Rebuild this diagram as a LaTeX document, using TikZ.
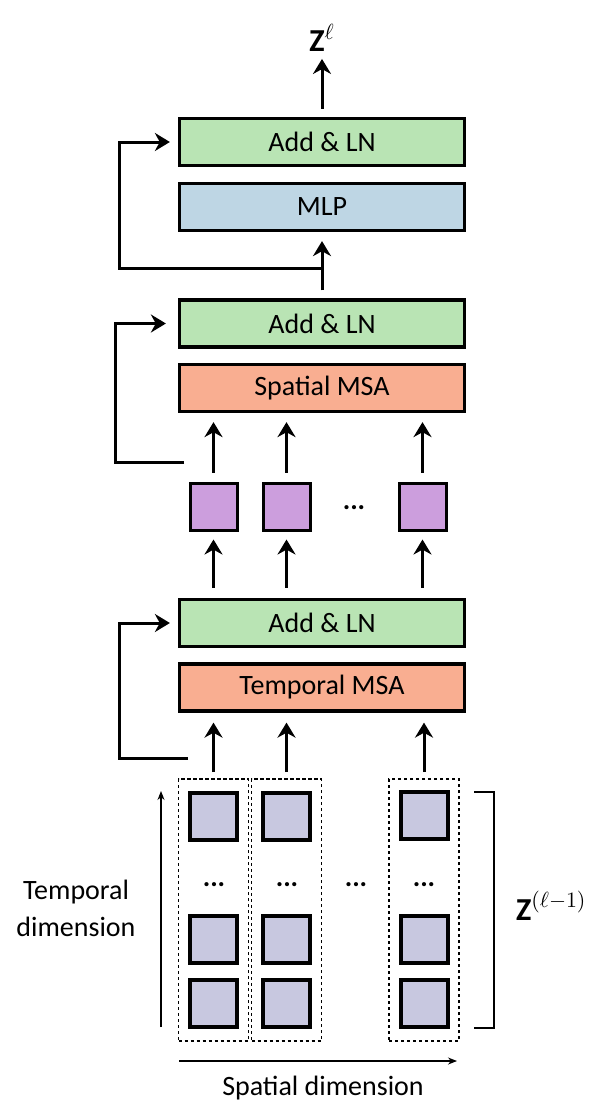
\documentclass[tikz,border=0pt]{standalone}
\usepackage{fontspec}
\setmainfont{Carlito}
\usepackage{tikz}
\usetikzlibrary{arrows.meta}
\usepackage{xcolor}

\definecolor{lngreen}{RGB}{185,228,180}
\definecolor{mlpblue}{RGB}{190,214,228}
\definecolor{msared}{RGB}{249,174,145}
\definecolor{tokpurple}{RGB}{204,158,221}
\definecolor{inlav}{RGB}{200,200,224}

\tikzset{
  every node/.style={font=\fontsize{14}{18.5}\selectfont},
  block/.style={draw, line width=1.6pt, minimum width=142.5pt, minimum height=23.5pt, inner sep=0pt},
  token/.style={draw, line width=1.5pt, minimum size=23.5pt, inner sep=0pt},
  frame/.style={draw, line width=0.8pt, dash pattern=on 1.6pt off 1.4pt, minimum width=35pt, minimum height=131pt, inner sep=0pt},
  arr/.style={-{Stealth[length=7.5pt,width=9pt]}, line width=1.5pt},
  thinarr/.style={-{Stealth[length=4.5pt,width=3.5pt]}, line width=0.6pt},
  tensor/.style={font=\fontsize{16}{18}\selectfont},
}

\begin{document}
\begin{tikzpicture}[x=0.5pt, y=-0.5pt]
  \useasboundingbox (0,0) rectangle (592,1102);

  \node[tensor] (zout) at (322,38) {\textbf{Z}$^{\ell}$};
  \node[block, fill=lngreen] (add3) at (322,142) {Add \& LN};
  \node[block, fill=mlpblue] (mlp) at (322,207) {MLP};
  \node[block, fill=lngreen] (add2) at (322,323.5) {Add \& LN};
  \node[block, fill=msared] (smsa) at (322,388) {Spatial MSA};
  \node[token, fill=tokpurple] (p1) at (213.5,506.5) {};
  \node[token, fill=tokpurple] (p2) at (286.5,506.5) {};
  \node[token, fill=tokpurple] (p3) at (422.5,506.5) {};
  \node (pdots) at (354,508) {\textbf{...}};
  \node[block, fill=lngreen] (add1) at (322,623) {Add \& LN};
  \node[block, fill=msared] (tmsa) at (322,687.5) {Temporal MSA};

  % input tokens, one dashed frame per spatial position
  \node[frame] (c1) at (213.5,910) {};
  \node[frame] (c2) at (286.5,910) {};
  \node[frame] (c3) at (424,910) {};
  \node[token, line width=2pt, fill=inlav] (x1a) at (213.5,816.5) {};
  \node[token, line width=2pt, fill=inlav] (x1b) at (213.5,939.5) {};
  \node[token, line width=2pt, fill=inlav] (x1c) at (213.5,1003.5) {};
  \node[token, line width=2pt, fill=inlav] (x2a) at (286.5,816.5) {};
  \node[token, line width=2pt, fill=inlav] (x2b) at (286.5,939.5) {};
  \node[token, line width=2pt, fill=inlav] (x2c) at (286.5,1003.5) {};
  \node[token, line width=2pt, fill=inlav] (x3a) at (424.5,815.5) {};
  \node[token, line width=2pt, fill=inlav] (x3b) at (424.5,939.5) {};
  \node[token, line width=2pt, fill=inlav] (x3c) at (424.5,1003.5) {};
  \node (d1) at (214,885) {\textbf{...}};
  \node (d2) at (287,885) {\textbf{...}};
  \node (d3) at (424,885) {\textbf{...}};
  \node (dm) at (356,885) {\textbf{...}};

  \node[align=center] (tlab) at (76,908) {Temporal\\dimension};
  \node (slab) at (323,1088) {Spatial dimension};
  \node[tensor, anchor=west] (zin) at (509,906) {\textbf{Z}$^{(\ell-1)}$};

  % main flow
  \draw[arr, shorten <=4pt] (add3.north -| zout) -- (zout.south);
  \draw[arr, shorten <=4pt, shorten >=4.5pt] (add2.north) -- (mlp.south);
  \draw[arr, shorten <=4.5pt, shorten >=4.5pt] (p1.north) -- (smsa.south -| p1);
  \draw[arr, shorten <=4.5pt, shorten >=4.5pt] (p2.north) -- (smsa.south -| p2);
  \draw[arr, shorten <=4.5pt, shorten >=4.5pt] (p3.north) -- (smsa.south -| p3);
  \draw[arr, shorten <=5pt, shorten >=4pt] (add1.north -| p1) -- (p1.south);
  \draw[arr, shorten <=5pt, shorten >=4pt] (add1.north -| p2) -- (p2.south);
  \draw[arr, shorten <=5pt, shorten >=4pt] (add1.north -| p3) -- (p3.south);
  \draw[arr, shorten <=3pt, shorten >=5pt] (c1.north) -- (tmsa.south -| c1);
  \draw[arr, shorten <=3pt, shorten >=5pt] (c2.north) -- (tmsa.south -| c2);
  \draw[arr, shorten <=3pt, shorten >=5pt] (c3.north) -- (tmsa.south -| c3);

  % residual connections
  \coordinate (r3) at (322,268);
  \coordinate (k3) at (119,268);
  \draw[arr, shorten >=4pt] (r3) -- (k3) |- (add3.west);
  \coordinate (r2) at (184,462);
  \coordinate (k2) at (115,462);
  \draw[arr, shorten >=6pt] (r2) -- (k2) |- (add2.west);
  \coordinate (r1) at (188,758);
  \coordinate (k1) at (119,758);
  \draw[arr, shorten >=4pt] (r1) -- (k1) |- (add1.west);

  % axes and bracket
  \coordinate (tbot) at (161,1027);
  \coordinate (ttop) at (161,791);
  \draw[thinarr] (tbot) -- (ttop);
  \coordinate (sl) at (179,1061);
  \coordinate (sr) at (457,1061);
  \draw[thinarr] (sl) -- (sr);
  \draw[line width=0.6pt] (474,792) -- (494,792) -- (494,1028) -- (474,1028);
\end{tikzpicture}
\end{document}
